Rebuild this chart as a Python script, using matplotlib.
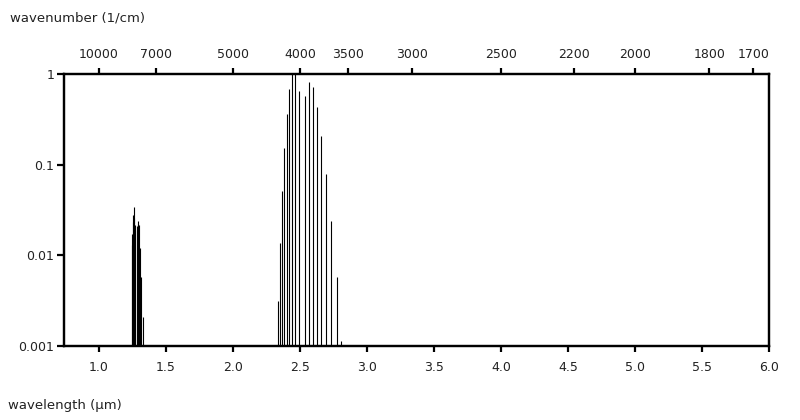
import numpy as np
import matplotlib
matplotlib.use("Agg")
import matplotlib.pyplot as plt
from matplotlib.ticker import FixedLocator, FixedFormatter, NullLocator

# stick spectrum: wavelength (um) and relative intensity
overtone_wl = [1.246, 1.250, 1.254, 1.258, 1.261, 1.265, 1.269, 1.284, 1.288, 1.291, 1.295, 1.299, 1.306, 1.313, 1.328]
overtone_val = [0.013, 0.017, 0.0235, 0.028, 0.034, 0.026, 0.0216, 0.019, 0.021, 0.024, 0.022, 0.0216, 0.012, 0.0058, 0.0021]

fund_wl = [2.338, 2.353, 2.368, 2.383, 2.405, 2.420, 2.443, 2.463, 2.490,
           2.540, 2.569, 2.599, 2.629, 2.659, 2.696, 2.734, 2.774, 2.808]
fund_val = [0.0031, 0.0138, 0.051, 0.153, 0.36, 0.68, 1.0, 1.0, 0.65,
            0.57, 0.82, 0.71, 0.43, 0.207, 0.079, 0.024, 0.0058, 0.00114]

x_ticks = [1.0, 1.5, 2.0, 2.5, 3.0, 3.5, 4.0, 4.5, 5.0, 5.5, 6.0]
y_ticks = [0.001, 0.01, 0.1, 1]
y_labels = ["0.001", "0.01", "0.1", "1"]
wn_ticks = [10000, 7000, 5000, 4000, 3500, 3000, 2500, 2200, 2000, 1800, 1700]

plt.rcParams['font.family'] = ['DejaVu Sans']
fig = plt.figure(figsize=(8, 4.2), dpi=100)
ax = fig.add_axes([64/800, 1 - 346/420, 705/800, 272/420])

wl = np.array(overtone_wl + fund_wl)
val = np.array(overtone_val + fund_val)
ax.vlines(wl, 1e-4, val, colors='black', linewidth=0.8)

ax.set_yscale('log')
ax.set_xlim(0.74, 6.0)
ax.set_ylim(0.001, 1)

ax.xaxis.set_major_locator(FixedLocator(x_ticks))
ax.set_xticklabels(["%.1f" % t for t in x_ticks])
ax.xaxis.set_minor_locator(NullLocator())
ax.yaxis.set_major_locator(FixedLocator(y_ticks))
ax.yaxis.set_major_formatter(FixedFormatter(y_labels))
ax.yaxis.set_minor_locator(NullLocator())

for s in ax.spines.values():
    s.set_linewidth(1.6)
ax.tick_params(axis='x', direction='out', length=4, width=1.6, pad=7, labelsize=9, labelcolor='#222222')
ax.tick_params(axis='y', direction='out', length=5, width=1.6, pad=2, labelsize=9, labelcolor='#222222')

top = ax.twiny()
top.set_xlim(ax.get_xlim())
top.xaxis.set_major_locator(FixedLocator([10000.0 / w for w in wn_ticks]))
top.xaxis.set_major_formatter(FixedFormatter([str(w) for w in wn_ticks]))
top.xaxis.set_minor_locator(NullLocator())
top.tick_params(axis='x', direction='out', length=4, width=1.6, pad=5, labelsize=9, labelcolor='#222222')
for s in top.spines.values():
    s.set_linewidth(1.6)

fig.text(10/800, 1 - 18/420, "wavenumber (1/cm)", fontsize=9.5, color='#222222', va='center', ha='left')
fig.text(8/800, 1 - 405/420, "wavelength (\u00b5m)", fontsize=9.5, color='#222222', va='center', ha='left')

fig.savefig("out.png", dpi=100)
